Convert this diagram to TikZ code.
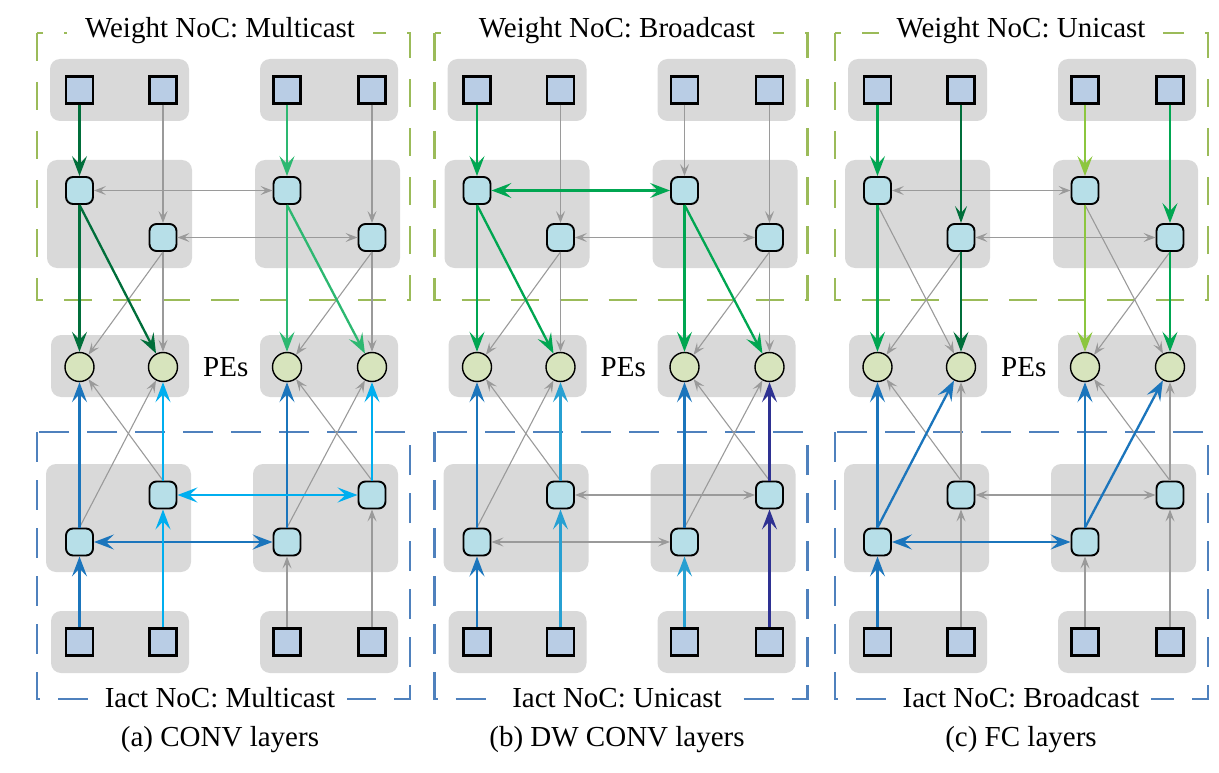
\documentclass[tikz,border=0pt]{standalone}
\usepackage{fontspec}
\setmainfont{Liberation Serif}
\usetikzlibrary{arrows.meta}
\definecolor{boxgray}{HTML}{D9D9D9}
\definecolor{sqfill}{HTML}{B9CDE5}
\definecolor{rtfill}{HTML}{B7DFE8}
\definecolor{pefill}{HTML}{D7E4BD}
\definecolor{arrgray}{HTML}{9A9A9A}
\definecolor{wgreen}{HTML}{9BBB59}
\definecolor{iblue}{HTML}{4F81BD}
\definecolor{dkgreen}{HTML}{006E3A}
\definecolor{medgreen}{HTML}{2DB871}
\definecolor{mgreen}{HTML}{00A651}
\definecolor{ltgreen}{HTML}{8CC63F}
\definecolor{mblue}{HTML}{1B75BC}
\definecolor{mcyan}{HTML}{00AEEF}
\definecolor{midblue}{HTML}{27A0D2}
\definecolor{mnavy}{HTML}{2E3192}
\tikzset{
  grp/.style={fill=boxgray, rounded corners=10pt},
  sq/.style={draw=black, fill=sqfill, line width=2.1pt, minimum size=27pt, inner sep=0pt},
  rt/.style={draw=black, fill=rtfill, line width=1.9pt, minimum size=27pt, inner sep=0pt, rounded corners=7pt},
  pe/.style={draw=black, fill=pefill, line width=1.4pt, circle, minimum size=29pt, inner sep=0pt},
  gtip/.tip={Stealth[length=12pt,width=9pt,inset=5pt]},
  htip/.tip={Stealth[length=20pt,width=15pt,inset=8pt]},
  stip/.tip={Stealth[length=17pt,width=12pt,inset=7pt]},
  grayar/.style={draw=arrgray, line width=1.1pt, -gtip},
  grayboth/.style={draw=arrgray, line width=1.1pt, gtip-gtip},
  hot/.style={draw=#1, line width=2.3pt, -htip},
  hotthin/.style={draw=#1, line width=1.4pt, -stip},
  hotboth/.style={draw=#1, line width=2.3pt, htip-htip},
  wdash/.style={draw=wgreen, line width=2.2pt, dash pattern=on 28pt off 21pt},
  idash/.style={draw=iblue, line width=2.2pt, dash pattern=on 30pt off 18pt},
  ttl/.style={fill=white, inner xsep=18pt, inner ysep=2pt, anchor=base, font=\fontsize{29}{34}\selectfont},
  captxt/.style={inner sep=0pt, anchor=base, font=\fontsize{29}{34}\selectfont},
}
\newcommand\drawpanel[6]{%
  \begin{scope}[xshift=#2pt]
    \draw[wdash] (37,33) rectangle (410,300);
    \draw[idash] (37,432) rectangle (410,699);
    \fill[grp] (50,59) rectangle (189,121);
    \fill[grp] (260,59) rectangle (398,121);
    \fill[grp] (47,160) rectangle (192,268);
    \fill[grp] (255,160) rectangle (400,268);
    \fill[grp] (51,335) rectangle (189,397);
    \fill[grp] (260,335) rectangle (398,397);
    \fill[grp] (46,464) rectangle (191,572);
    \fill[grp] (253,464) rectangle (398,572);
    \fill[grp] (51,611) rectangle (189,673);
    \fill[grp] (260,611) rectangle (398,673);
    \node[sq] (#1-s1) at (79.5,90) {};
    \node[sq] (#1-s2) at (163,90) {};
    \node[sq] (#1-s3) at (287,90) {};
    \node[sq] (#1-s4) at (372,90) {};
    \node[rt] (#1-r1) at (79.5,190.5) {};
    \node[rt] (#1-r2) at (163,237.5) {};
    \node[rt] (#1-r3) at (287,190.5) {};
    \node[rt] (#1-r4) at (372,237.5) {};
    \node[pe] (#1-p1) at (79.5,367) {};
    \node[pe] (#1-p2) at (163,367) {};
    \node[pe] (#1-p3) at (287,367) {};
    \node[pe] (#1-p4) at (372,367) {};
    \node[rt] (#1-i1) at (79.5,542) {};
    \node[rt] (#1-i2) at (163,495) {};
    \node[rt] (#1-i3) at (287,542) {};
    \node[rt] (#1-i4) at (372,495) {};
    \node[sq] (#1-t1) at (79.5,642) {};
    \node[sq] (#1-t2) at (163,642) {};
    \node[sq] (#1-t3) at (287,642) {};
    \node[sq] (#1-t4) at (372,642) {};
    \node[captxt, anchor=base west] (#1-pes) at (203,376) {PEs};
  \end{scope}
  \node[ttl] (#1-wt) at (#6,38) {#3};
  \node[ttl, inner xsep=12pt] (#1-it) at (#6,707) {#4};
  \node[captxt] (#1-cap) at (#6,746) {#5};
}
\begin{document}
\begin{tikzpicture}[x=1pt,y=-1pt]
\path[use as bounding box] (0,0) rectangle (1219,773);
\drawpanel{a}{0}{Weight NoC: Multicast}{Iact NoC: Multicast}{(a) CONV layers}{220}
\drawpanel{b}{397.5}{Weight NoC: Broadcast}{Iact NoC: Unicast}{(b) DW CONV layers}{617}
\drawpanel{c}{798}{Weight NoC: Unicast}{Iact NoC: Broadcast}{(c) FC layers}{1021}

% ---------- panel (a) ----------
\draw[grayar] (a-s2) -- (a-r2);
\draw[grayar] (a-s4) -- (a-r4);
\draw[grayboth] (a-r1) -- (a-r3);
\draw[grayboth] (a-r2) -- (a-r4);
\draw[grayar] (a-r2.south) -- (a-p1);
\draw[grayar] (a-r2) -- (a-p2);
\draw[grayar] (a-r4.south) -- (a-p3);
\draw[grayar] (a-r4) -- (a-p4);
\draw[hot=dkgreen] (a-s1) -- (a-r1);
\draw[hot=dkgreen] (a-r1) -- (a-p1);
\draw[hot=dkgreen] (a-r1.south) -- (a-p2);
\draw[hot=medgreen] (a-s3) -- (a-r3);
\draw[hot=medgreen] (a-r3) -- (a-p3);
\draw[hot=medgreen] (a-r3.south) -- (a-p4);
\draw[grayar] (a-t3) -- (a-i3);
\draw[grayar] (a-t4) -- (a-i4);
\draw[grayar] (a-i1.north) -- (a-p2);
\draw[grayar] (a-i2.north) -- (a-p1);
\draw[grayar] (a-i3.north) -- (a-p4);
\draw[grayar] (a-i4.north) -- (a-p3);
\draw[hot=mblue] (a-t1) -- (a-i1);
\draw[hotboth=mblue] (a-i1) -- (a-i3);
\draw[hot=mblue] (a-i1) -- (a-p1);
\draw[hot=mblue] (a-i3) -- (a-p3);
\draw[hot=mcyan] (a-t2) -- (a-i2);
\draw[hotboth=mcyan] (a-i2) -- (a-i4);
\draw[hot=mcyan] (a-i2) -- (a-p2);
\draw[hot=mcyan] (a-i4) -- (a-p4);

% ---------- panel (b) ----------
\draw[grayar] (b-s2) -- (b-r2);
\draw[grayar] (b-s3) -- (b-r3);
\draw[grayar] (b-s4) -- (b-r4);
\draw[grayboth] (b-r2) -- (b-r4);
\draw[grayar] (b-r2.south) -- (b-p1);
\draw[grayar] (b-r2) -- (b-p2);
\draw[grayar] (b-r4.south) -- (b-p3);
\draw[grayar] (b-r4) -- (b-p4);
\draw[hot=mgreen] (b-s1) -- (b-r1);
\draw[hotboth=mgreen] (b-r1) -- (b-r3);
\draw[hot=mgreen] (b-r1) -- (b-p1);
\draw[hot=mgreen] (b-r1.south) -- (b-p2);
\draw[hot=mgreen] (b-r3) -- (b-p3);
\draw[hot=mgreen] (b-r3.south) -- (b-p4);
\draw[grayboth] (b-i1) -- (b-i3);
\draw[grayboth] (b-i2) -- (b-i4);
\draw[grayar] (b-i1.north) -- (b-p2);
\draw[grayar] (b-i2.north) -- (b-p1);
\draw[grayar] (b-i3.north) -- (b-p4);
\draw[grayar] (b-i4.north) -- (b-p3);
\draw[hot=mblue] (b-t1) -- (b-i1);
\draw[hot=mblue] (b-i1) -- (b-p1);
\draw[hot=midblue] (b-t2) -- (b-i2);
\draw[hot=midblue] (b-i2) -- (b-p2);
\draw[hot=midblue] (b-t3) -- (b-i3);
\draw[hot=mblue] (b-i3) -- (b-p3);
\draw[hot=mnavy] (b-t4) -- (b-i4);
\draw[hot=mnavy] (b-i4) -- (b-p4);

% ---------- panel (c) ----------
\draw[grayboth] (c-r1) -- (c-r3);
\draw[grayboth] (c-r2) -- (c-r4);
\draw[grayar] (c-r1.south) -- (c-p2);
\draw[grayar] (c-r2.south) -- (c-p1);
\draw[grayar] (c-r3.south) -- (c-p4);
\draw[grayar] (c-r4.south) -- (c-p3);
\draw[hot=mgreen] (c-s1) -- (c-r1);
\draw[hot=mgreen] (c-r1) -- (c-p1);
\draw[hotthin=dkgreen] (c-s2) -- (c-r2);
\draw[hot=dkgreen] (c-r2) -- (c-p2);
\draw[hot=ltgreen] (c-s3) -- (c-r3);
\draw[hot=ltgreen] (c-r3) -- (c-p3);
\draw[hot=mgreen] (c-s4) -- (c-r4);
\draw[hot=mgreen] (c-r4) -- (c-p4);
\draw[grayar] (c-t2) -- (c-i2);
\draw[grayar] (c-t3) -- (c-i3);
\draw[grayar] (c-t4) -- (c-i4);
\draw[grayboth] (c-i2) -- (c-i4);
\draw[grayar] (c-i2) -- (c-p2);
\draw[grayar] (c-i2.north) -- (c-p1);
\draw[grayar] (c-i4) -- (c-p4);
\draw[grayar] (c-i4.north) -- (c-p3);
\draw[hot=mblue] (c-t1) -- (c-i1);
\draw[hotboth=mblue] (c-i1) -- (c-i3);
\draw[hot=mblue] (c-i1) -- (c-p1);
\draw[hot=mblue] (c-i1.north) -- (c-p2);
\draw[hot=mblue] (c-i3) -- (c-p3);
\draw[hot=mblue] (c-i3.north) -- (c-p4);
\end{tikzpicture}
\end{document}
